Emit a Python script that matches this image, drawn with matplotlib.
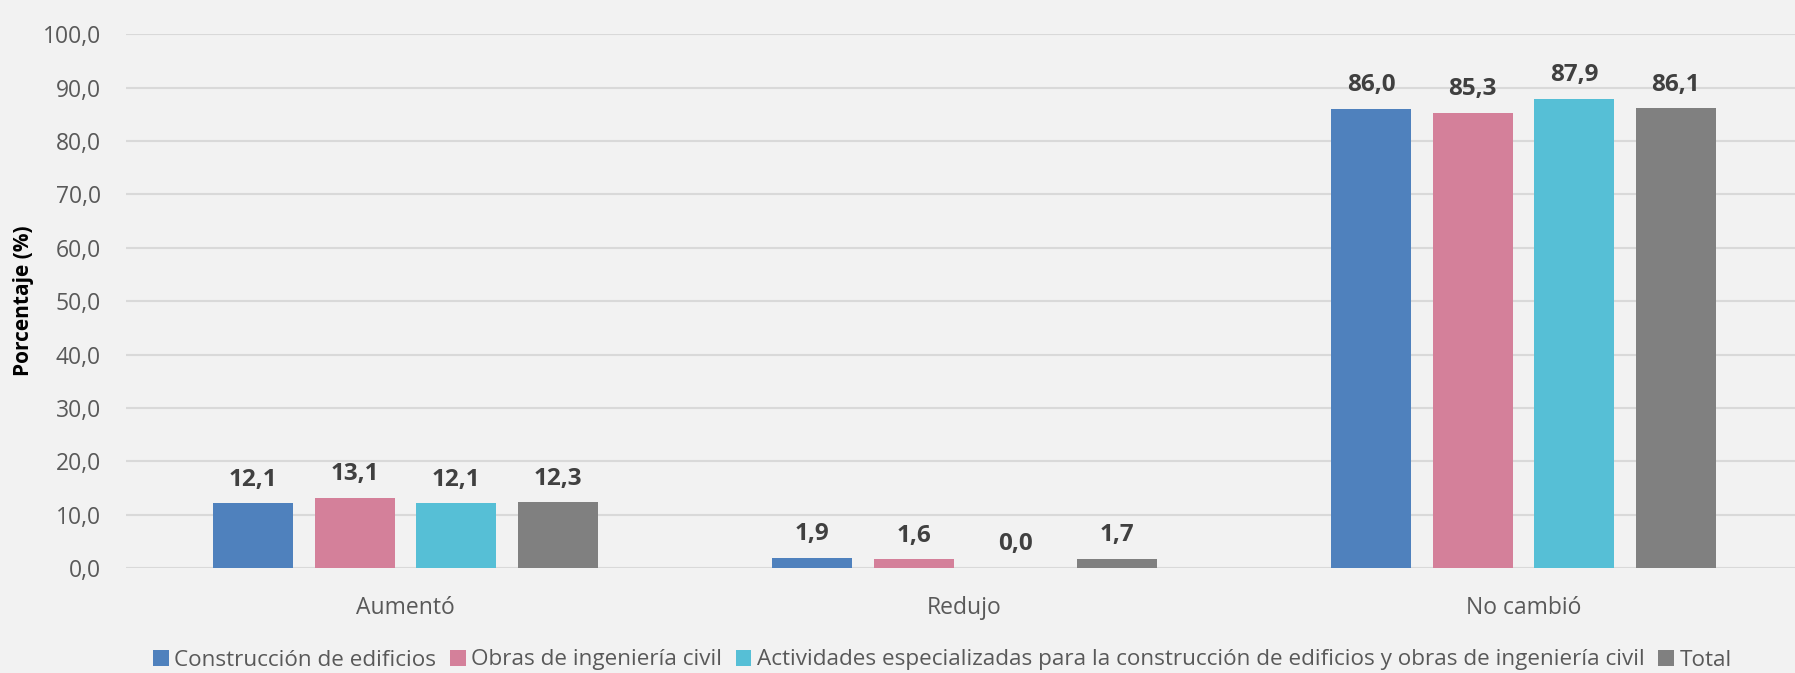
import numpy as np
import matplotlib.pyplot as plt

# Datos
categorias = ['Aumentó', 'Redujo', 'No cambió']
series = ['Construcción de edificios', 'Obras de ingeniería civil',
          'Actividades especializadas para la construcción de edificios y obras de ingeniería civil',
          'Total']
edificios = [12.1, 1.9, 86.0]
civil = [13.1, 1.6, 85.3]
especializadas = [12.1, 0.0, 87.9]
total = [12.3, 1.7, 86.1]
valores = [edificios, civil, especializadas, total]
colores = ['#4f81bd', '#d4809a', '#56bfd6', '#808080']
yticks = np.arange(0, 101, 10)

plt.rcParams['font.family'] = ['Open Sans', 'DejaVu Sans']
bg = '#f2f2f2'

fig = plt.figure(figsize=(17.95, 6.73), dpi=100, facecolor=bg)
W, H = 1795, 673
y0, y100 = 568, 34.3
x_left, x_right = 126, 1795
ax = fig.add_axes([x_left / W, 1 - y0 / H, (x_right - x_left) / W, (y0 - y100) / H])
ax.set_facecolor(bg)

x = np.arange(len(categorias))
paso = 101.5 / 559
ancho = 80 / 559
for i, (vals, c) in enumerate(zip(valores, colores)):
    pos = x + (i - 1.5) * paso
    ax.bar(pos, vals, ancho, color=c, label=series[i], zorder=3)
    for xb, v in zip(pos, vals):
        ax.text(xb, v + 2.2, f'{v:.1f}'.replace('.', ','), ha='center', va='bottom',
                fontsize=17.5, fontweight='bold', color='#404040', zorder=4)

ax.set_xlim(-0.5, 2.5 - 8 / 559)
ax.set_ylim(0, 100)
ax.set_yticks(yticks)
ax.set_yticklabels([f'{v:.1f}'.replace('.', ',') for v in yticks])
ax.yaxis.grid(True, color='#d9d9d9', linewidth=1.5, zorder=0)
ax.set_axisbelow(True)
for s in ax.spines.values():
    s.set_visible(False)
ax.tick_params(axis='both', length=0, labelsize=16.5, labelcolor='#595959')
ax.tick_params(axis='y', pad=18)
ax.tick_params(axis='x', pad=20)
ax.set_xticks(x)
ax.set_xticklabels(categorias)
ax.set_ylabel('Porcentaje (%)', fontsize=15, fontweight='bold', color='black', labelpad=6)

leg = fig.legend(loc='center', bbox_to_anchor=(0.525, 1 - 660 / H), ncol=4, frameon=False,
                 fontsize=16.2, handlelength=0.7, handleheight=0.7, handletextpad=0.25,
                 columnspacing=0.6, labelcolor='#595959')

fig.savefig('out.png', dpi=100, facecolor=bg)
